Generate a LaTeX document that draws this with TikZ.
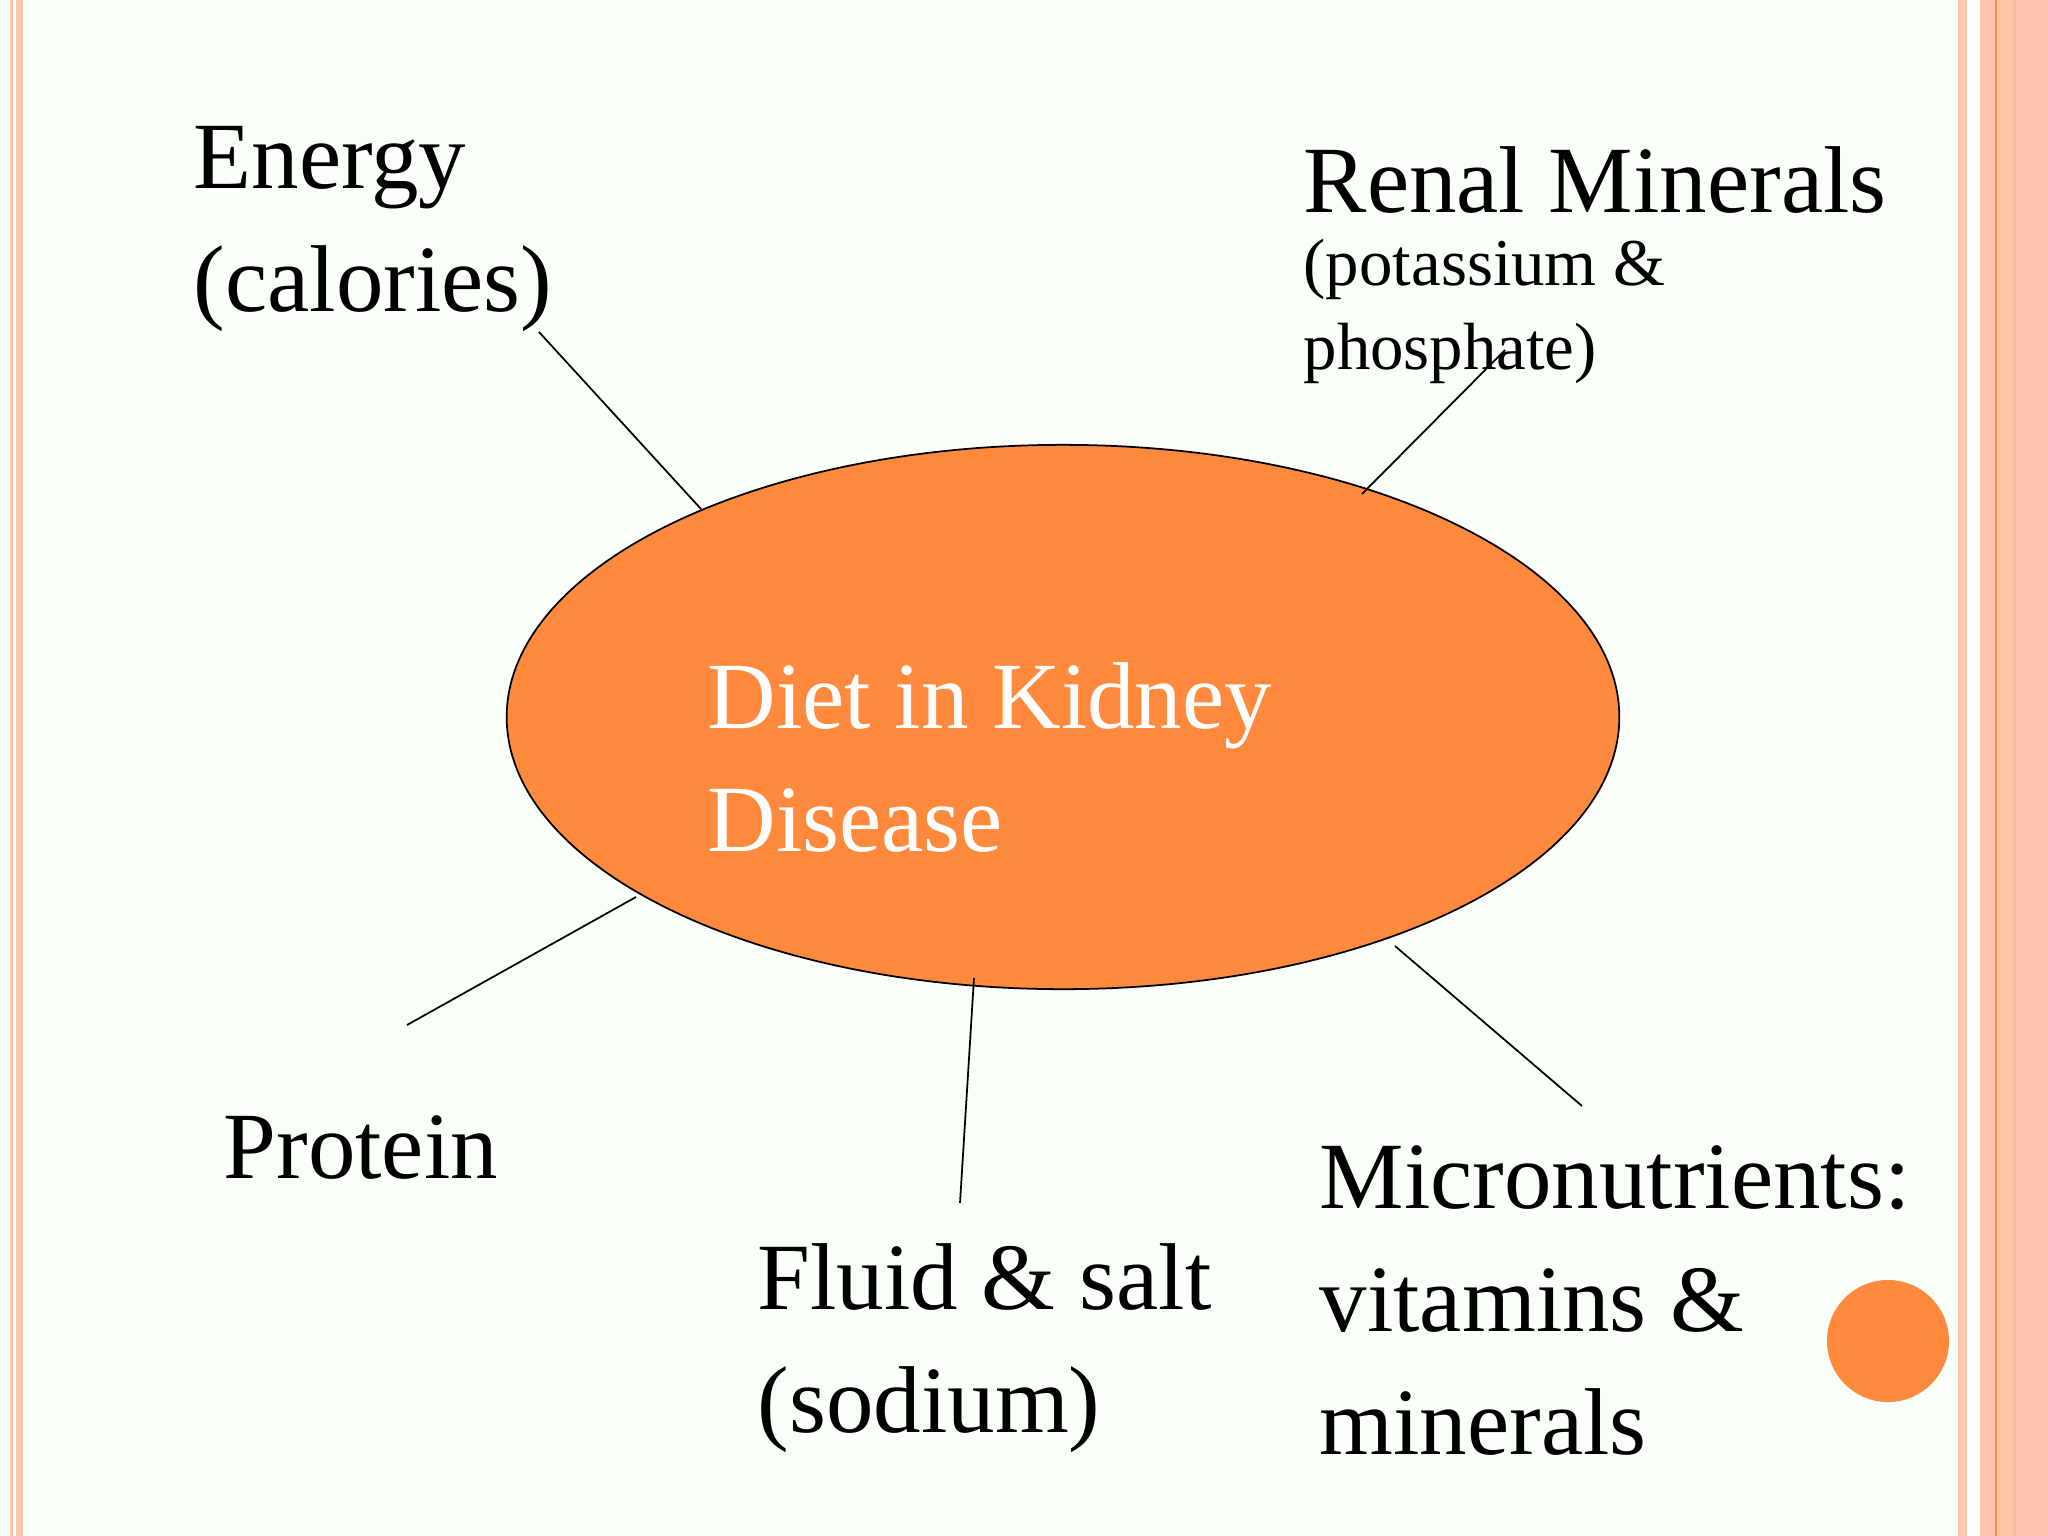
\documentclass[tikz,border=0pt]{standalone}
\usepackage{fontspec}
\setmainfont{Liberation Serif}
\usetikzlibrary{shapes.geometric}
\definecolor{org}{HTML}{FF8A3D}
\definecolor{pk}{HTML}{FFC6AE}
\begin{document}
\begin{tikzpicture}[x=0.01cm,y=-0.01cm,
  lbl/.style={anchor=north west,inner sep=0pt,align=left,font=\fontsize{27}{35}\selectfont},
  sml/.style={anchor=north west,inner sep=0pt,align=left,font=\fontsize{19}{24}\selectfont},
  conn/.style={draw=black,line width=0.5pt}]
\fill[white!98!green] (0,0) rectangle (2048,1536);
\useasboundingbox (0,0) rectangle (2048,1536);
% borders
\fill[pk] (10,0) rectangle (13,1536);
\fill[pk] (16,0) rectangle (23,1536);
\fill[pk] (1958,0) rectangle (1967,1536);
\fill[pk] (1980,0) rectangle (2048,1536);
\fill[org] (1995,0) rectangle (1997,1536);
\fill[pk!80!org] (2013,0) rectangle (2016,1536);
% ellipse
\node[ellipse,draw=black,line width=0.5pt,fill=org,minimum width=11.12cm,minimum height=5.44cm,inner sep=0] (c) at (1063,717) {};
\node[lbl,text=white] (ct) at (707,662) {Diet in Kidney\\Disease};
\node[lbl] (en) at (193,126) {Energy\\(calories)};
\node[lbl] (rm) at (1303,146) {Renal Minerals};
\node[sml] (rs) at (1303,238) {(potassium \&\\phosphate)};
\node[lbl] (pr) at (223,1115) {Protein};
\node[lbl] (fl) at (757,1243) {Fluid \& salt\\(sodium)};
\node[lbl] (mi) at (1319,1145) {Micronutrients:\\vitamins \&\\minerals};
\fill[org] (1888,1341) circle[radius=0.61cm];
\coordinate (e1) at (539,332); \coordinate (e2) at (701,509);
\coordinate (r1) at (1505,350); \coordinate (r2) at (1362,494);
\coordinate (p1) at (636,897); \coordinate (p2) at (407,1025);
\coordinate (f1) at (974,978); \coordinate (f2) at (960,1203);
\coordinate (m1) at (1395,946); \coordinate (m2) at (1582,1106);
\draw[conn] (e1) -- (e2);
\draw[conn] (r1) -- (r2);
\draw[conn] (p1) -- (p2);
\draw[conn] (f1) -- (f2);
\draw[conn] (m1) -- (m2);
\end{tikzpicture}
\end{document}
